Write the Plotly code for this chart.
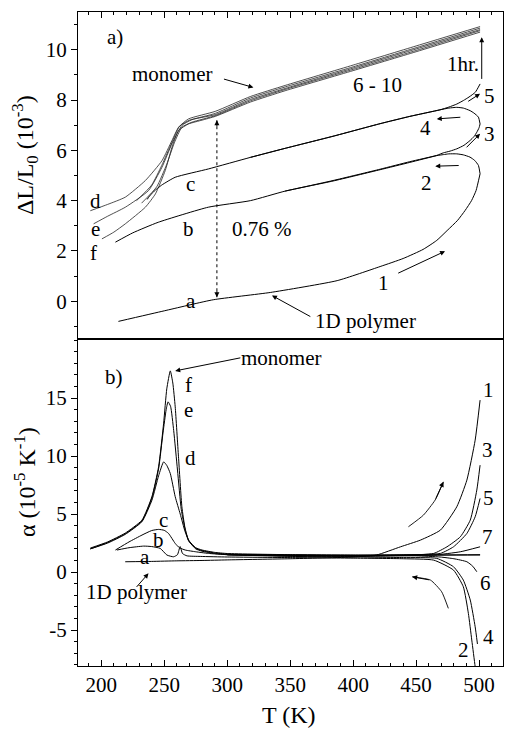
import plotly.graph_objects as go

# ---------------- panel a): dL/L0 (10^-3) vs T ----------------
run1_T = [213.6, 250, 288.9, 334.2, 387.3, 421.4, 439.7, 455.5, 466.4, 474.6, 483, 488.9, 494, 497.6, 500.8]
run1_L = [-0.80, -0.38, 0.06, 0.35, 0.82, 1.38, 1.70, 2.06, 2.42, 2.81, 3.22, 3.61, 4.00, 4.40, 5.07]

run2_T = [500.8, 499.5, 496.5, 492.8, 487.5, 482.3, 476, 471.6, 466.4, 445, 421.4, 384, 346, 318.4, 285, 245.2, 225, 211.2]
run2_L = [5.07, 5.40, 5.60, 5.73, 5.82, 5.86, 5.86, 5.83, 5.79, 5.52, 5.23, 4.78, 4.38, 4.00, 3.74, 3.14, 2.72, 2.35]

run3_T = [346, 384, 421.4, 445, 466.4, 471.6, 477, 482.3, 488, 492.8, 496, 498.2, 500, 500.8]
run3_L = [4.38, 4.80, 5.25, 5.55, 5.80, 5.90, 5.97, 6.06, 6.20, 6.39, 6.55, 6.72, 6.90, 7.05]

run4_T = [500.8, 499.5, 496, 492.8, 487.5, 482.3, 476, 468.9, 445, 421.4, 384, 346, 318.4, 285, 258.7, 248, 242, 237.6, 236.5]
run4_L = [7.05, 7.32, 7.48, 7.58, 7.68, 7.71, 7.68, 7.61, 7.35, 7.06, 6.56, 6.08, 5.72, 5.26, 4.93, 4.62, 4.38, 4.14, 4.05]

run5_T = [318.4, 346, 384, 421.4, 445, 468.9, 476, 482.3, 487.5, 492, 497, 500.8]
run5_L = [5.72, 6.08, 6.56, 7.06, 7.35, 7.61, 7.72, 7.84, 7.98, 8.12, 8.31, 8.64]

mono_d_T = [191.3, 205, 219.1, 235, 248.2, 256.1, 261.4, 269.3, 290.5, 318.4, 346, 400, 450, 500.8]
mono_d_L = [3.60, 3.85, 4.14, 4.80, 5.59, 6.39, 6.92, 7.25, 7.55, 8.14, 8.58, 9.39, 10.15, 10.92]
mono_e_T = [193.9, 205, 219.1, 237.5, 248.2, 256.1, 264, 272, 290.5, 318.4, 346, 400, 450, 500.8]
mono_e_L = [3.08, 3.38, 3.74, 4.40, 5.33, 6.26, 6.99, 7.22, 7.47, 8.08, 8.52, 9.32, 10.08, 10.86]
mono_f_T = [200.5, 210, 219.1, 235, 243, 250.8, 256.1, 261.4, 269.3, 280, 290.5, 318.4, 346, 400, 450, 500.8]
mono_f_L = [2.48, 2.75, 3.08, 3.74, 4.27, 5.20, 6.12, 6.79, 7.05, 7.20, 7.35, 7.92, 8.37, 9.17, 9.92, 10.70]
mono_g_T = [228, 240, 248, 256, 262, 270, 290.5, 318.4, 346, 400, 450, 500.8]
mono_g_L = [4.00, 4.62, 5.40, 6.30, 6.95, 7.20, 7.42, 8.02, 8.46, 9.27, 10.03, 10.80]
mono_h_T = [232, 244, 252, 258, 264, 272, 290.5, 318.4, 346, 400, 450, 500.8]
mono_h_L = [3.90, 4.55, 5.45, 6.30, 6.92, 7.12, 7.38, 7.97, 8.42, 9.22, 9.97, 10.76]

step_T = [291.8, 291.8]          # 0.76 % dotted arrow
step_L = [0.16, 7.20]

# ---------------- panel b): alpha (10^-5 K^-1) vs T ----------------
alpha_f_T = [191.3, 205, 219, 232.3, 240.2, 245.5, 249.5, 252, 254.8, 256.8, 258.7, 261.3, 264, 266.5, 269.3, 275, 280, 290, 300, 350, 400, 450, 500.8]
alpha_f   = [2.07, 2.6, 3.36, 4.48, 6.5, 9.08, 12.84, 15.8, 17.35, 16.3, 14.25, 9.94, 5.63, 3.8, 2.76, 2.1, 1.9, 1.7, 1.6, 1.5, 1.47, 1.47, 1.47]
alpha_e_T = [191.3, 205, 219, 232.3, 240.2, 245.5, 249, 251.5, 253, 255, 257.5, 260.5, 263.5, 266.5, 269.3, 275, 280, 290, 300, 350, 400, 450, 500.8]
alpha_e   = [2.0, 2.55, 3.3, 4.4, 6.4, 8.9, 12.0, 14.0, 14.68, 14.3, 12.2, 8.8, 5.4, 3.7, 2.7, 2.05, 1.85, 1.65, 1.55, 1.45, 1.42, 1.45, 1.5]
alpha_d_T = [191.3, 205, 219, 232.3, 240.2, 245.5, 249.5, 252, 254.8, 258.7, 262.7, 266.5, 270, 275, 280, 290, 300, 350, 400, 450, 469, 480, 490.3, 495, 498.2]
alpha_d   = [2.0, 2.5, 3.25, 4.35, 6.2, 8.3, 9.5, 9.2, 8.5, 6.5, 5.0, 3.5, 2.6, 2.0, 1.8, 1.6, 1.5, 1.4, 1.35, 1.4, 1.3, 1.15, 0.89, 0.5, 0.03]
alpha_c_T = [211.2, 222, 232.3, 240, 245.5, 250, 253.4, 258.7, 262, 266.7, 275, 285, 300, 350, 400, 440, 466.4, 479.7, 487.5, 493, 496.9, 498.7]
alpha_c   = [1.9, 2.6, 3.19, 3.58, 3.68, 3.6, 3.33, 2.47, 2.1, 1.9, 1.75, 1.61, 1.5, 1.35, 1.3, 1.25, 1.18, 0.46, -0.69, -2.41, -4.72, -6.2]
alpha_b_T = [212.4, 222, 233.6, 240, 246.8, 252.1, 257.4, 260.5, 262.6, 264.5, 268, 278.6, 300, 350, 400, 440, 464, 479.7, 487.5, 491.5, 494.2, 496.9, 498.5]
alpha_b   = [1.9, 2.1, 2.24, 2.2, 2.04, 1.47, 1.32, 1.5, 2.2, 1.6, 1.4, 1.35, 1.3, 1.25, 1.2, 1.15, 1.03, 0.17, -1.27, -3.56, -5.86, -8.16, -9.5]
alpha_a_T = [219, 240, 260, 280, 300, 350, 400, 418.5, 437.6, 453.5, 469.3, 482.3, 490.3, 496.9, 500.8]
alpha_a   = [0.89, 0.92, 0.97, 1.0, 1.05, 1.15, 1.3, 1.47, 2.18, 2.76, 3.62, 5.63, 7.93, 11.38, 14.83]
alpha_3_T = [300, 350, 400, 440, 464, 474.5, 485.1, 493, 498.2, 500.8]
alpha_3   = [1.5, 1.4, 1.38, 1.45, 1.61, 2.18, 3.04, 4.48, 7.07, 9.22]
alpha_5_T = [300, 350, 400, 440, 469.3, 479.7, 490.3, 496.9, 500.8]
alpha_5   = [1.5, 1.45, 1.42, 1.48, 1.61, 2.18, 3.33, 4.77, 6.35]
alpha_7_T = [300, 350, 400, 440, 464, 485.1, 500.8]
alpha_7   = [1.5, 1.48, 1.45, 1.47, 1.47, 1.75, 2.18]

heat_arrow_T = [443.9, 455.8, 465.1, 471.7]
heat_arrow_a = [3.91, 4.91, 6.21, 7.78]
cool_arrow_T = [475.6, 470.3, 461.4, 446.9]
cool_arrow_a = [-3.13, -1.70, -0.69, -0.41]

x_ticks = [200, 250, 300, 350, 400, 450, 500]
ya_ticks = [0, 2, 4, 6, 8, 10]
yb_ticks = [-5, 0, 5, 10, 15]
yb_text = ["-5", "0", "5", "10", "15"]

FONT = "Liberation Serif, Times New Roman, serif"
fig = go.Figure()

def line(x, y, xa, ya, w=1.0, color="black", dash="solid"):
    fig.add_trace(go.Scatter(x=x, y=y, mode="lines", xaxis=xa, yaxis=ya,
                             line=dict(color=color, width=w, dash=dash, shape="spline", smoothing=0.5),
                             showlegend=False, hoverinfo="skip"))

# panel a
for T, L in [(run1_T, run1_L), (run2_T, run2_L), (run3_T, run3_L), (run4_T, run4_L), (run5_T, run5_L)]:
    line(T, L, "x2", "y2", 1.0)
for T, L in [(mono_d_T, mono_d_L), (mono_e_T, mono_e_L), (mono_f_T, mono_f_L),
             (mono_g_T, mono_g_L), (mono_h_T, mono_h_L)]:
    line(T, L, "x2", "y2", 0.8, "#222")
fig.add_trace(go.Scatter(x=step_T, y=step_L, mode="lines", xaxis="x2", yaxis="y2",
                         line=dict(color="black", width=1, dash="dot"), showlegend=False, hoverinfo="skip"))

# panel b
for T, A in [(alpha_f_T, alpha_f), (alpha_e_T, alpha_e), (alpha_d_T, alpha_d), (alpha_c_T, alpha_c),
             (alpha_b_T, alpha_b), (alpha_a_T, alpha_a), (alpha_3_T, alpha_3), (alpha_5_T, alpha_5),
             (alpha_7_T, alpha_7)]:
    line(T, A, "x", "y", 1.0)
line(heat_arrow_T, heat_arrow_a, "x", "y", 0.9)
line(cool_arrow_T, cool_arrow_a, "x", "y", 0.9)

ann = []
def text(x, y, s, xr="x2", yr="y2", size=21, xanchor="center"):
    ann.append(dict(x=x, y=y, xref=xr, yref=yr, text=s, showarrow=False,
                    font=dict(family=FONT, size=size, color="black"), xanchor=xanchor, yanchor="middle"))

def arrow(x, y, ax, ay, xr="x2", yr="y2"):
    ann.append(dict(x=x, y=y, ax=ax, ay=ay, xref=xr, yref=yr, axref=xr, ayref=yr, text="",
                    showarrow=True, arrowhead=2, arrowsize=1, arrowwidth=1, arrowcolor="black"))

# panel a labels
text(211.2, 10.49, "a)")
text(256.5, 9.05, "monomer")
arrow(320.8, 8.50, 296.2, 8.85)
text(419, 8.58, "6 - 10")
text(487.3, 9.45, "1hr.")
arrow(502.1, 10.5, 502.1, 8.78)
text(508, 8.18, "5"); text(457.3, 6.87, "4"); text(508, 6.65, "3"); text(458, 4.72, "2")
text(423.8, 0.74, "1")
text(409.7, -0.77, "1D polymer")
arrow(335.5, 0.23, 367.2, -0.64)
text(195.3, 4.0, "d"); text(195.3, 2.89, "e"); text(193.7, 1.90, "f")
text(270.8, 4.68, "c"); text(269.2, 2.89, "b"); text(271.2, 0.03, "a")
text(328, 2.89, "0.76 %")
arrow(step_T[1], step_L[1], step_T[1], step_L[1] - 0.3)
arrow(step_T[0], step_L[0], step_T[0], step_L[0] + 0.3)
arrow(473, 1.99, 434.6, 1.09)
arrow(465.2, 5.37, 485, 5.40)
arrow(500.8, 6.66, 488.9, 6.06)
arrow(466.4, 7.25, 486.3, 7.32)
arrow(500.8, 8.25, 490.2, 7.91)

# panel b labels
text(209.8, 16.84, "b)", "x", "y")
text(309, 18.45, "monomer", "x", "y", xanchor="left")
arrow(258.7, 17.35, 311.6, 18.5, "x", "y")
text(269.3, 16.1, "f", "x", "y"); text(269.3, 13.97, "e", "x", "y"); text(270.8, 9.8, "d", "x", "y")
text(249.5, 4.48, "c", "x", "y"); text(245.5, 2.76, "b", "x", "y"); text(235, 1.32, "a", "x", "y")
text(228.2, -1.70, "1D polymer", "x", "y")
arrow(237.5, -0.11, 227, -1.41, "x", "y")
text(507.5, 15.69, "1", "x", "y"); text(506.7, 10.52, "3", "x", "y"); text(507.5, 6.35, "5", "x", "y")
text(506.7, 3.04, "7", "x", "y"); text(504.8, -0.97, "6", "x", "y"); text(507.5, -5.58, "4", "x", "y")
text(487.6, -6.72, "2", "x", "y")
arrow(heat_arrow_T[-1], heat_arrow_a[-1], heat_arrow_T[-2], heat_arrow_a[-2], "x", "y")
arrow(cool_arrow_T[-1], cool_arrow_a[-1], cool_arrow_T[-2], cool_arrow_a[-2], "x", "y")

# axis titles
ann.append(dict(x=-0.125, y=0.781, xref="paper", yref="paper", textangle=-90, showarrow=False,
                xanchor="center", yanchor="middle",
                text="ΔL/L<sub>0</sub> (10<sup>-3</sup>)", font=dict(family=FONT, size=24, color="black")))
ann.append(dict(x=-0.125, y=0.281, xref="paper", yref="paper", textangle=-90, showarrow=False,
                xanchor="center", yanchor="middle",
                text="α (10<sup>-5</sup> K<sup>-1</sup>)", font=dict(family=FONT, size=24, color="black")))
ann.append(dict(x=0.496, y=-0.075, xref="paper", yref="paper", showarrow=False,
                xanchor="center", yanchor="middle",
                text="T (K)", font=dict(family=FONT, size=24, color="black")))

TICKFONT = dict(family=FONT, size=21, color="black")
xcommon = dict(range=[181.5, 519], tickmode="array", tickvals=x_ticks, ticks="inside", ticklen=6,
               tickwidth=1, tickcolor="black", showline=True, linecolor="black", linewidth=1,
               mirror=True, showgrid=False, zeroline=False, tickfont=TICKFONT,
               minor=dict(tickmode="linear", tick0=0, dtick=10, ticks="inside", ticklen=3, tickcolor="black"))
ycommon = dict(ticks="outside", ticklen=6, tickwidth=1, tickcolor="black", showline=True,
               linecolor="black", linewidth=1, mirror=True, showgrid=False, zeroline=False, tickfont=TICKFONT,
               minor=dict(tickmode="linear", tick0=0, dtick=1, ticks="outside", ticklen=3, tickcolor="black"))

fig.update_layout(
    width=505, height=733, margin=dict(l=78, r=2, t=12, b=67),
    paper_bgcolor="white", plot_bgcolor="white",
    font=dict(family=FONT, size=21, color="black"),
    xaxis=dict(domain=[0, 1], anchor="y", **xcommon),
    xaxis2=dict(domain=[0, 1], anchor="y2", side="top", showticklabels=False, matches="x", **xcommon),
    yaxis=dict(domain=[0, 0.5], anchor="x", range=[-8.1, 20.1], tickmode="array",
               tickvals=yb_ticks, ticktext=yb_text, **ycommon),
    yaxis2=dict(domain=[0.5, 1], anchor="x2", range=[-1.5, 11.5], tickmode="array",
                tickvals=ya_ticks, **ycommon),
    annotations=ann,
    showlegend=False,
)

fig.write_html("out.html")
